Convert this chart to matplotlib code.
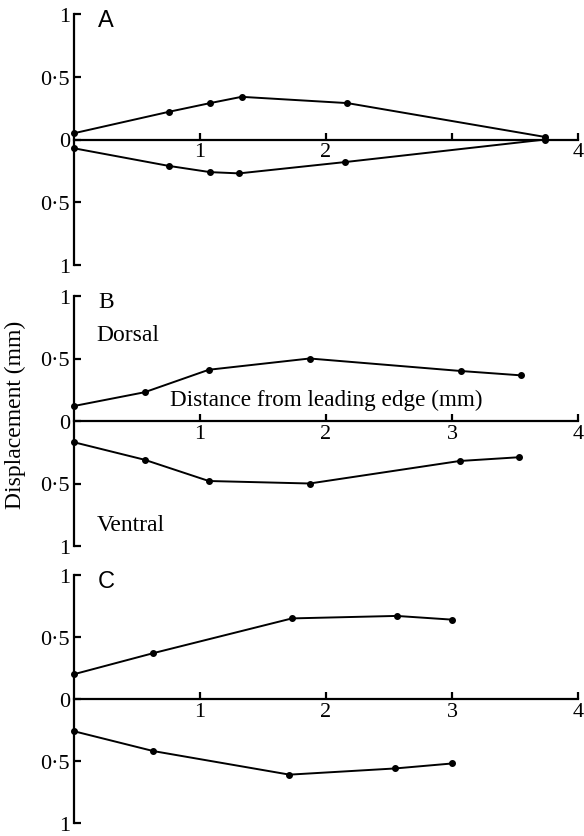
import matplotlib
matplotlib.use("Agg")
import matplotlib.pyplot as plt

plt.rcParams['font.family'] = ['Liberation Serif', 'DejaVu Serif']

# panel A
a_up_x = [0.0, 0.75, 1.08, 1.33, 2.17, 3.74]
a_up_y = [0.05, 0.22, 0.29, 0.34, 0.29, 0.02]
a_lo_x = [0.0, 0.75, 1.08, 1.31, 2.15, 3.74]
a_lo_y = [-0.07, -0.21, -0.26, -0.27, -0.18, 0.0]

# panel B
b_up_x = [0.0, 0.56, 1.07, 1.87, 3.07, 3.55]
b_up_y = [0.12, 0.23, 0.41, 0.50, 0.40, 0.365]
b_lo_x = [0.0, 0.56, 1.07, 1.87, 3.06, 3.53]
b_lo_y = [-0.17, -0.31, -0.48, -0.50, -0.32, -0.29]

# panel C
c_up_x = [0.0, 0.63, 1.73, 2.56, 3.0]
c_up_y = [0.20, 0.37, 0.65, 0.67, 0.64]
c_lo_x = [0.0, 0.63, 1.71, 2.55, 3.0]
c_lo_y = [-0.26, -0.42, -0.61, -0.56, -0.52]

ytick_vals = [-1, -0.5, 0, 0.5, 1]
ytick_labels = ['1', '0·5', '0', '0·5', '1']
xtick_vals = [1, 2, 3, 4]

panels = [
    ('A', 'Liberation Sans', a_up_x, a_up_y, a_lo_x, a_lo_y, ['1', '2', '', '4']),
    ('B', 'Liberation Serif', b_up_x, b_up_y, b_lo_x, b_lo_y, ['1', '2', '3', '4']),
    ('C', 'Liberation Sans', c_up_x, c_up_y, c_lo_x, c_lo_y, ['1', '2', '3', '4']),
]

W, H = 584, 837
fig = plt.figure(figsize=(W / 100, H / 100), dpi=100)
tops = [15, 297, 576]
bots = [266, 547, 824]

for (letter, lfam, ux, uy, lx, ly, xl), t, b in zip(panels, tops, bots):
    ax = fig.add_axes([74 / W, (H - b) / H, 504 / W, (b - t) / H])
    ax.set_xlim(0, 4)
    ax.set_ylim(-1, 1)
    for s in ['top', 'right']:
        ax.spines[s].set_visible(False)
    ax.spines['bottom'].set_position(('data', 0))
    ax.spines['bottom'].set_linewidth(1.6)
    ax.spines['left'].set_linewidth(1.6)
    ax.plot(ux, uy, '-o', color='black', lw=1.4, ms=4, clip_on=False)
    ax.plot(lx, ly, '-o', color='black', lw=1.4, ms=4, clip_on=False)
    ax.set_yticks(ytick_vals)
    ax.set_yticklabels(ytick_labels)
    ax.set_xticks(xtick_vals)
    ax.set_xticklabels(xl)
    ax.tick_params(axis='y', direction='in', length=5, width=1.6, pad=3, labelsize=16)
    ax.tick_params(axis='x', direction='in', length=5, width=1.6, pad=2, labelsize=16)
    ax.text(0.19, 1.04, letter, fontsize=17, family=lfam, va='top', ha='left')
    ax.patch.set_visible(False)
    if letter == 'B':
        ax.text(0.18, 0.69, 'Dorsal', fontsize=17, va='center', ha='left')
        ax.text(0.18, -0.83, 'Ventral', fontsize=17, va='center', ha='left')
        ax.text(0.76, 0.17, 'Distance from leading edge (mm)', fontsize=16.7,
                va='center', ha='left')
        ax.set_ylabel('Displacement (mm)', fontsize=17)
        ax.yaxis.set_label_coords(-0.095, 0.53)

fig.savefig('out.png', dpi=100)
